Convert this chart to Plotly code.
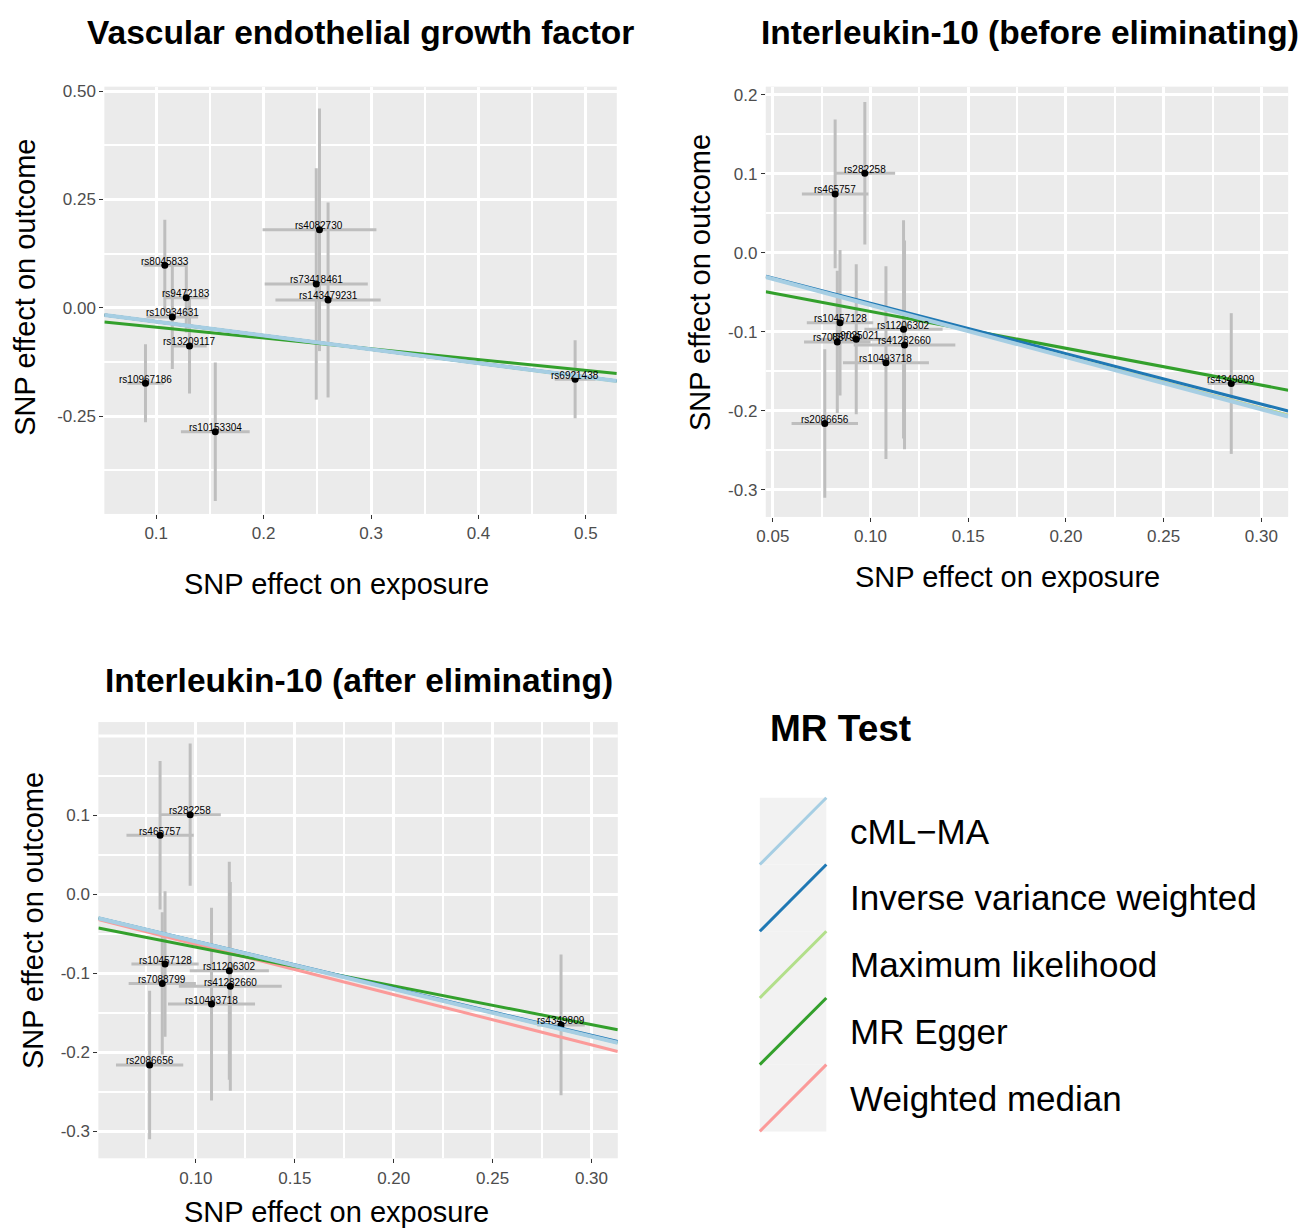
import plotly.graph_objects as go

# ---------------- data ----------------
methods = ["cML-MA", "Inverse variance weighted", "Maximum likelihood", "MR Egger", "Weighted median"]
method_colors = ["#A6CEE3", "#1F78B4", "#B2DF8A", "#33A02C", "#FB9A99"]

# Panel 1: Vascular endothelial growth factor
vegf_snps = ["rs8045833", "rs9472183", "rs10934631", "rs13209117", "rs10967186",
             "rs10153304", "rs4082730", "rs73418461", "rs143479231", "rs6921438"]
vegf_bx = [0.108, 0.128, 0.115, 0.131, 0.090, 0.155, 0.252, 0.249, 0.260, 0.490]
vegf_by = [0.098, 0.023, -0.021, -0.088, -0.174, -0.286, 0.180, 0.055, 0.018, -0.165]
vegf_se_x = [0.020, 0.020, 0.024, 0.016, 0.017, 0.032, 0.053, 0.048, 0.049, 0.019]
vegf_se_y = [0.105, 0.080, 0.120, 0.110, 0.090, 0.160, 0.280, 0.267, 0.225, 0.090]
vegf_slopes = [-0.320, -0.319, -0.321, -0.249, -0.320]
vegf_intercepts = [0.0, 0.0, 0.0, -0.020, 0.0]

# Panel 2: Interleukin-10 (before eliminating)
il10_snps = ["rs282258", "rs465757", "rs10457128", "rs7088799", "rs9025021",
             "rs11206302", "rs41282660", "rs10493718", "rs2086656", "rs4349809"]
il10_bx = [0.0971, 0.0819, 0.0844, 0.0830, 0.0927, 0.1169, 0.1174, 0.1079, 0.0766, 0.2846]
il10_by = [0.1006, 0.0745, -0.0884, -0.1128, -0.1094, -0.0968, -0.1165, -0.1390, -0.2160, -0.1654]
il10_se_x = [0.0155, 0.017, 0.017, 0.017, 0.019, 0.020, 0.026, 0.022, 0.017, 0.012]
il10_se_y = [0.090, 0.094, 0.092, 0.090, 0.095, 0.138, 0.132, 0.122, 0.094, 0.089]
before_slopes = [-0.660, -0.638, -0.655, -0.466, -0.655]
before_intercepts = [0.0, 0.0, 0.0, -0.0276, 0.0]

# Panel 3: Interleukin-10 (after eliminating the outlier SNP)
eliminated_snps = ["rs9025021"]
after_slopes = [-0.600, -0.595, -0.600, -0.490, -0.635]
after_intercepts = [0.0, 0.0, 0.0, -0.018, 0.0]

W, H = 1309, 1230


def px(x, y):
    return x / W, 1 - y / H


fig = go.Figure()
annotations = []
shapes = []

FONT = "Liberation Sans, Arial, sans-serif"


def add_panel(k, snps, bx, by, sex, sey, slopes, intercepts, xr):
    xa = "x" if k == 1 else f"x{k}"
    ya = "y" if k == 1 else f"y{k}"
    fig.add_trace(go.Scatter(
        x=bx, y=by, mode="markers", xaxis=xa, yaxis=ya, showlegend=False,
        marker=dict(color="black", size=7),
        error_x=dict(type="data", array=sex, symmetric=True, color="#BEBEBE", thickness=3, width=0),
        error_y=dict(type="data", array=sey, symmetric=True, color="#BEBEBE", thickness=3, width=0),
        hovertext=snps,
    ))
    for s, xv, yv in zip(snps, bx, by):
        annotations.append(dict(x=xv, y=yv, xref=xa, yref=ya, text=s, showarrow=False,
                                yshift=4, font=dict(size=10, color="black", family=FONT)))
    order = [4, 3, 2, 1, 0]
    for i in order:
        xs = [xr[0], xr[1]]
        ys = [intercepts[i] + slopes[i] * v for v in xs]
        fig.add_trace(go.Scatter(x=xs, y=ys, mode="lines", xaxis=xa, yaxis=ya, showlegend=False,
                                 line=dict(color=method_colors[i], width=4 if i == 0 else 3),
                                 name=methods[i]))


xr1 = [0.0517, 0.5288]
yr1 = [-0.4758, 0.5104]
xr2 = [0.0464, 0.3137]
yr2 = [-0.3341, 0.2101]
xr3 = [0.0507, 0.3133]
yr3 = [-0.334, 0.2177]

add_panel(1, vegf_snps, vegf_bx, vegf_by, vegf_se_x, vegf_se_y, vegf_slopes, vegf_intercepts, xr1)
add_panel(2, il10_snps, il10_bx, il10_by, il10_se_x, il10_se_y, before_slopes, before_intercepts, xr2)
keep = [i for i, s in enumerate(il10_snps) if s not in eliminated_snps]
add_panel(3, [il10_snps[i] for i in keep], [il10_bx[i] for i in keep], [il10_by[i] for i in keep],
          [il10_se_x[i] for i in keep], [il10_se_y[i] for i in keep], after_slopes, after_intercepts, xr3)

tickfont = dict(size=17, color="#4D4D4D", family=FONT)
minor_style = dict(ticks="", showgrid=True, gridcolor="white", gridwidth=1.5)


def axis(domain, rng, tickvals, ticktext, minorvals, anchor):
    return dict(domain=domain, range=rng, tickvals=tickvals, ticktext=ticktext,
                showgrid=True, gridcolor="white", gridwidth=3, zeroline=False, showline=False,
                ticks="outside", ticklen=4, tickcolor="#333333", tickwidth=1.2,
                tickfont=tickfont, anchor=anchor,
                minor=dict(tickvals=minorvals, **minor_style))


x_il_vals = [0.05, 0.10, 0.15, 0.20, 0.25, 0.30]
x_il_text = ["0.05", "0.10", "0.15", "0.20", "0.25", "0.30"]
x_il_minor = [0.075, 0.125, 0.175, 0.225, 0.275]

fig.update_layout(
    width=W, height=H, autosize=False,
    margin=dict(l=0, r=0, t=0, b=0),
    paper_bgcolor="white", plot_bgcolor="#EBEBEB",
    showlegend=False,
    xaxis=axis([96 / W, 612 / W], xr1, [0.1, 0.2, 0.3, 0.4, 0.5], ["0.1", "0.2", "0.3", "0.4", "0.5"],
               [0.15, 0.25, 0.35, 0.45], "y"),
    yaxis=axis([1 - 511 / H, 1 - 82 / H], yr1, [0.5, 0.25, 0.0, -0.25], ["0.50", "0.25", "0.00", "-0.25"],
               [0.375, 0.125, -0.125, -0.375], "x"),
    xaxis2=axis([762 / W, 1288 / W], xr2, x_il_vals, x_il_text, x_il_minor, "y2"),
    yaxis2=axis([1 - 514 / H, 1 - 82 / H], yr2, [0.2, 0.1, 0.0, -0.1, -0.2, -0.3],
                ["0.2", "0.1", "0.0", "-0.1", "-0.2", "-0.3"], [0.15, 0.05, -0.05, -0.15, -0.25], "x2"),
    xaxis3=axis([90 / W, 613 / W], xr3, x_il_vals, x_il_text, x_il_minor, "y3"),
    yaxis3=axis([1 - 1158 / H, 1 - 720 / H], yr3, [0.1, 0.0, -0.1, -0.2, -0.3],
                ["0.1", "0.0", "-0.1", "-0.2", "-0.3"], [0.15, 0.05, -0.05, -0.15, -0.25], "x3"),
)

# top major gridline of panel 3 (its label is cropped in the original)
shapes.append(dict(type="line", xref="x3 domain", yref="y3", x0=0, x1=1, y0=0.2, y1=0.2,
                   line=dict(color="white", width=3), layer="below"))


def text_at(x, y, text, size, bold=False, family=FONT, angle=0, xanchor="center"):
    px_, py_ = px(x, y)
    t = f"<b>{text}</b>" if bold else text
    annotations.append(dict(x=px_, y=py_, xref="paper", yref="paper", text=t, showarrow=False,
                            xanchor=xanchor, yanchor="middle", textangle=angle,
                            font=dict(size=size, color="black", family=family)))


# titles
text_at(354, 28, "Vascular endothelial growth factor", 33.5, True)
text_at(1028, 28, "Interleukin-10 (before eliminating)", 33.5, True)
text_at(352, 678, "Interleukin-10 (after eliminating)", 33.5, True)
# axis titles
text_at(330, 581, "SNP effect on exposure", 29)
text_at(1005, 574, "SNP effect on exposure", 29)
text_at(330, 1212, "SNP effect on exposure", 29)
text_at(16, 283, "SNP effect on outcome", 29, angle=-90)
text_at(696, 279, "SNP effect on outcome", 29, angle=-90)
text_at(24, 919, "SNP effect on outcome", 29, angle=-90)

# legend
text_at(764, 726, "MR Test", 37, True, xanchor="left")
key_x0, key_x1 = 756, 823
key_top, key_h = 796, 67
for i, (m, c) in enumerate(zip(methods, method_colors)):
    y0 = key_top + i * key_h
    y1 = y0 + key_h
    ax0, ay0 = px(key_x0, y1)
    ax1, ay1 = px(key_x1, y0)
    shapes.append(dict(type="rect", xref="paper", yref="paper", x0=ax0, y0=ay0, x1=ax1, y1=ay1,
                       fillcolor="#F2F2F2", line=dict(width=0), layer="below"))
    shapes.append(dict(type="line", xref="paper", yref="paper", x0=ax0, y0=ay0, x1=ax1, y1=ay1,
                       line=dict(color=c, width=3)))
    text_at(845, y0 + key_h / 2, m.replace("-", "\u2212"), 35, xanchor="left")

fig.update_layout(annotations=annotations, shapes=shapes)
fig.write_html("out.html", config={"displayModeBar": False},
               post_script="document.body.style.margin='0';document.body.style.overflow='hidden';")
